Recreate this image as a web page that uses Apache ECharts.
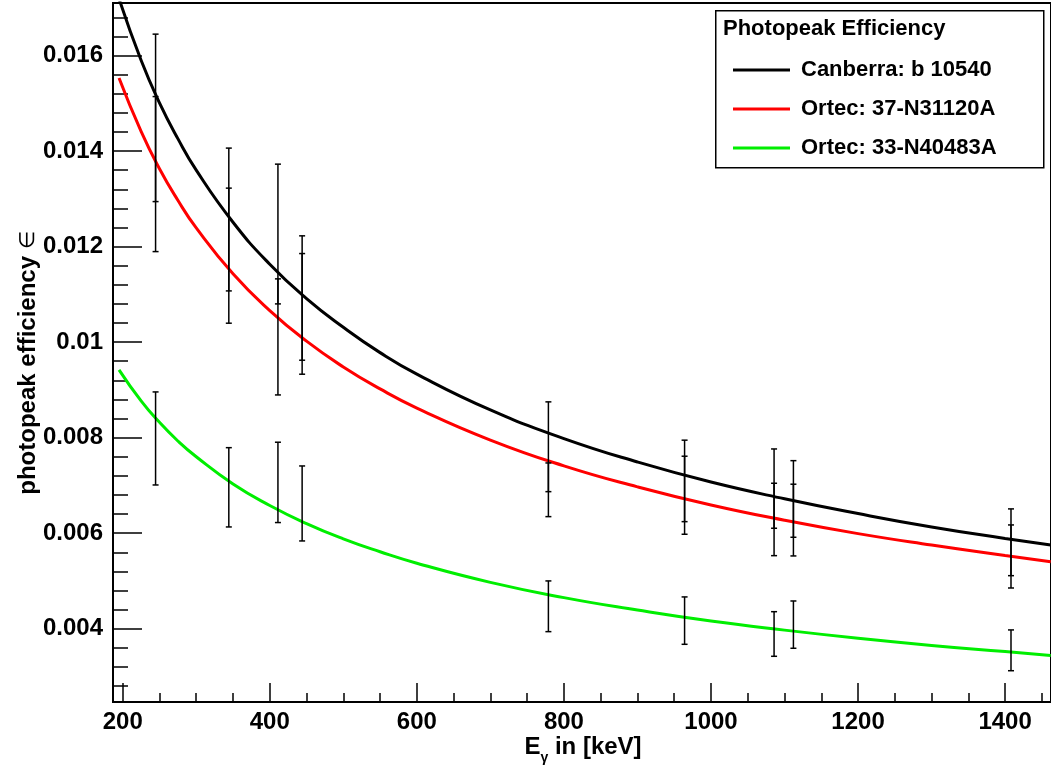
<!DOCTYPE html>
<html>
<head>
<meta charset="utf-8">
<title>Photopeak Efficiency</title>
<script src="https://cdn.jsdelivr.net/npm/echarts@6/dist/echarts.min.js"></script>
<style>
  html, body { margin: 0; padding: 0; background: #fff; }
  #chart { width: 1051px; height: 771px; }
</style>
</head>
<body>
<div id="chart"></div>
<script>
// Detector names
const detectorNames = ['Canberra: b 10540', 'Ortec: 37-N31120A', 'Ortec: 33-N40483A'];
const detectorColors = ['#000000', '#ff0000', '#00ee00'];

// Efficiency curves: energy [keV] and efficiency for each detector
const curveEnergy = [195, 225, 250, 275, 300, 350, 400, 450, 500, 550, 600, 700, 800, 900, 1000, 1100, 1200, 1300, 1400, 1462];
const canberraCurve = [0.01719, 0.01590, 0.01501, 0.01426, 0.01360, 0.01251, 0.01163, 0.01091, 0.01031, 0.00978, 0.00933, 0.00858, 0.00798, 0.00749, 0.00707, 0.00672, 0.00641, 0.00613, 0.00589, 0.00575];
const ortec37Curve  = [0.01553, 0.01441, 0.01363, 0.01297, 0.01239, 0.01143, 0.01066, 0.01002, 0.00948, 0.00902, 0.00862, 0.00795, 0.00741, 0.00697, 0.00659, 0.00627, 0.00599, 0.00575, 0.00553, 0.00540];
const ortec33Curve  = [0.00942, 0.00877, 0.00832, 0.00793, 0.00760, 0.00703, 0.00658, 0.00620, 0.00588, 0.00561, 0.00537, 0.00497, 0.00465, 0.00439, 0.00416, 0.00397, 0.00380, 0.00365, 0.00352, 0.00344];

// Measured points (152Eu lines) with their uncertainties
const lineEnergy = [244.7, 344.3, 411.1, 444.0, 778.9, 964.1, 1085.8, 1112.1, 1408.0];
const canberraVal = [0.014695, 0.012567, 0.012263, 0.010923, 0.007809, 0.007094, 0.006933, 0.006716, 0.005809];
const canberraErr = [0.001753, 0.001495, 0.001463, 0.001302, 0.000940, 0.000853, 0.000830, 0.000802, 0.000699];
const ortec37Val  = [0.013518, 0.011810, 0.010109, 0.010591, 0.006908, 0.006794, 0.006287, 0.006274, 0.005512];
const ortec37Err  = [0.001623, 0.001414, 0.001215, 0.001263, 0.000562, 0.000817, 0.000758, 0.000751, 0.000660];
const ortec33Val  = [0.007983, 0.006960, 0.007063, 0.006622, 0.004469, 0.004169, 0.003889, 0.004085, 0.003547];
const ortec33Err  = [0.000974, 0.000830, 0.000841, 0.000785, 0.000531, 0.000496, 0.000467, 0.000495, 0.000427];

// Axis ticks and labels
const xTickValues = [200, 400, 600, 800, 1000, 1200, 1400];
const xTickLabels = ['200', '400', '600', '800', '1000', '1200', '1400'];
const yTickValues = [0.004, 0.006, 0.008, 0.010, 0.012, 0.014, 0.016];
const yTickLabels = ['0.004', '0.006', '0.008', '0.01', '0.012', '0.014', '0.016'];

const xRange = [186.8, 1462.4];
const yRange = [0.002465, 0.0171];

const xMinor = [];
for (let v = 200; v <= 1450; v += 50) xMinor.push(v);
const yMinor = [];
for (let i = 7; i <= 42; i++) yMinor.push(+(i * 0.0004).toFixed(4));

const FONT = '"Liberation Sans", Arial, Helvetica, sans-serif';

function labelFor(values, labels) {
  return function (v) {
    let best = 0, d = Infinity;
    values.forEach((t, i) => { const dd = Math.abs(t - v); if (dd < d) { d = dd; best = i; } });
    return labels[best];
  };
}

function zip(xs, ys) { return xs.map((x, i) => [x, ys[i]]); }
function errData(vals, errs) { return lineEnergy.map((x, i) => [x, vals[i] - errs[i], vals[i] + errs[i]]); }

// Vertical error bar with short end caps
function renderErrorBar(params, api) {
  const x = api.value(0);
  const lo = api.coord([x, api.value(1)]);
  const hi = api.coord([x, api.value(2)]);
  const cap = 3;
  const style = { stroke: '#000', lineWidth: 1.5, fill: null };
  return {
    type: 'group',
    children: [
      { type: 'line', shape: { x1: lo[0], y1: lo[1], x2: hi[0], y2: hi[1] }, style: style },
      { type: 'line', shape: { x1: hi[0] - cap, y1: hi[1], x2: hi[0] + cap, y2: hi[1] }, style: style },
      { type: 'line', shape: { x1: lo[0] - cap, y1: lo[1], x2: lo[0] + cap, y2: lo[1] }, style: style }
    ]
  };
}

const curves = [canberraCurve, ortec37Curve, ortec33Curve];
const points = [[canberraVal, canberraErr], [ortec37Val, ortec37Err], [ortec33Val, ortec33Err]];

const series = [];
curves.forEach((c, i) => {
  series.push({
    name: detectorNames[i],
    type: 'line',
    data: zip(curveEnergy, c),
    smooth: true,
    symbol: 'none',
    clip: true,
    lineStyle: { color: detectorColors[i], width: 3 },
    itemStyle: { color: detectorColors[i] },
    z: 3
  });
});
points.forEach((p, i) => {
  series.push({
    name: 'err' + i,
    type: 'custom',
    renderItem: renderErrorBar,
    data: errData(p[0], p[1]),
    encode: { x: 0, y: [1, 2] },
    clip: true,
    z: 4
  });
});

const chart = echarts.init(document.getElementById('chart'), null, { renderer: 'canvas' });
chart.setOption({
  backgroundColor: '#ffffff',
  animation: false,
  textStyle: { fontFamily: FONT },
  grid: {
    left: 113, right: -2, top: 3, bottom: 69,
    show: true, borderColor: '#000', borderWidth: 2, backgroundColor: 'transparent'
  },
  xAxis: [
    {
      type: 'value', min: xRange[0], max: xRange[1],
      axisLine: { show: true, onZero: false, lineStyle: { color: '#000', width: 2 } },
      axisTick: { show: true, inside: true, length: 19, customValues: xTickValues, lineStyle: { color: '#000', width: 1.5 } },
      axisLabel: { show: true, customValues: xTickValues, formatter: labelFor(xTickValues, xTickLabels),
        color: '#000', fontFamily: FONT, fontWeight: 'bold', fontSize: 24, margin: 8 },
      splitLine: { show: false }
    },
    {
      type: 'value', min: xRange[0], max: xRange[1], position: 'bottom',
      axisLine: { show: false, onZero: false },
      axisTick: { show: true, inside: true, length: 9, customValues: xMinor, lineStyle: { color: '#000', width: 1.5 } },
      axisLabel: { show: false },
      splitLine: { show: false }
    }
  ],
  yAxis: [
    {
      type: 'value', min: yRange[0], max: yRange[1],
      axisLine: { show: true, onZero: false, lineStyle: { color: '#000', width: 2 } },
      axisTick: { show: true, inside: true, length: 29, customValues: yTickValues, lineStyle: { color: '#000', width: 1.5 } },
      axisLabel: { show: true, customValues: yTickValues, formatter: labelFor(yTickValues, yTickLabels),
        color: '#000', fontFamily: FONT, fontWeight: 'bold', fontSize: 24, margin: 10 },
      splitLine: { show: false }
    },
    {
      type: 'value', min: yRange[0], max: yRange[1], position: 'left',
      axisLine: { show: false, onZero: false },
      axisTick: { show: true, inside: true, length: 15, customValues: yMinor, lineStyle: { color: '#000', width: 1.5 } },
      axisLabel: { show: false },
      splitLine: { show: false }
    }
  ],
  legend: {
    orient: 'vertical',
    left: 728, top: 54,
    itemWidth: 57, itemHeight: 3, itemGap: 17,
    icon: 'rect',
    data: detectorNames,
    textStyle: { color: '#000', fontFamily: FONT, fontWeight: 'bold', fontSize: 22, lineHeight: 22, padding: [0, 0, 0, 6] }
  },
  graphic: [
    {
      type: 'rect', left: 715, top: 10, z: 0,
      shape: { width: 328, height: 157 },
      style: { fill: '#fff', stroke: '#000', lineWidth: 1.5 }
    },
    {
      type: 'text', left: 723, top: 18, z: 10,
      style: { text: 'Photopeak Efficiency', font: 'bold 22px ' + FONT, fill: '#000' }
    },
    {
      type: 'text', x: 583, y: 746, z: 10,
      style: {
        text: '{a|E}{s|γ}{a| in [keV]}',
        align: 'center', verticalAlign: 'middle',
        rich: {
          a: { font: 'bold 24px ' + FONT, fill: '#000', verticalAlign: 'bottom', lineHeight: 26 },
          s: { font: 'bold 14px ' + FONT, fill: '#000', verticalAlign: 'bottom', lineHeight: 26, padding: [0, 0, -6, 0] }
        }
      }
    },
    {
      type: 'text', x: 28, y: 363, rotation: Math.PI / 2, z: 10,
      style: {
        text: '{a|photopeak efficiency }{e|∈}',
        align: 'center', verticalAlign: 'middle',
        rich: {
          a: { font: 'bold 24px ' + FONT, fill: '#000' },
          e: { font: '21px ' + FONT, fill: '#000' }
        }
      }
    }
  ],
  series: series
});
</script>
</body>
</html>
